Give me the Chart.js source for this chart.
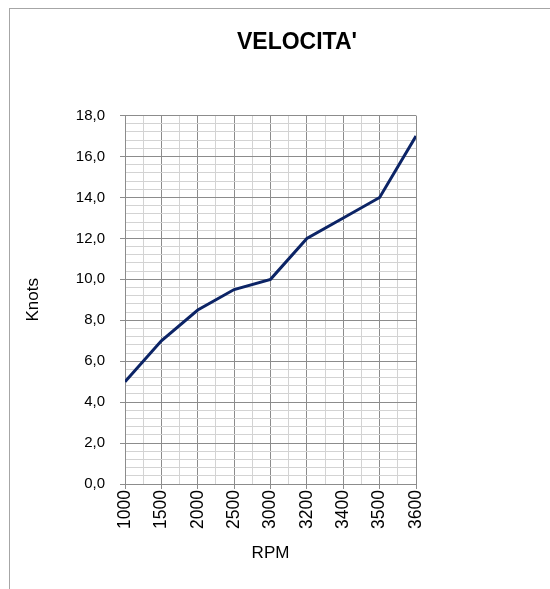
<!DOCTYPE html>
<html><head><meta charset="utf-8">
<script src="https://cdn.jsdelivr.net/npm/chart.js@4/dist/chart.umd.min.js"></script>
<style>
html,body{margin:0;padding:0;overflow:hidden;background:#fff;width:550px;height:589px;}
#frame{position:absolute;left:9px;top:8px;width:574px;height:600px;border-left:1px solid #a6a6a6;border-top:1px solid #a6a6a6;}
canvas{display:block;}
</style></head><body>
<div id="frame"><canvas id="c" width="574" height="600"></canvas></div>
<script>
const categories = ['1000','1500','2000','2500','3000','3200','3400','3500','3600'];
const knots = [5, 7, 8.5, 9.5, 10, 12, 13, 14, 17];
const yTickLabels = ['0,0','2,0','4,0','6,0','8,0','10,0','12,0','14,0','16,0','18,0'];
const chartTitle = "VELOCITA'";
const xTitle = 'RPM';
const yTitle = 'Knots';

const MAJOR = '#8c8c8c', MINOR = '#d3d3d3';
const FONT = "'Liberation Sans', Arial, sans-serif";
const isInt = v => Math.abs(v - Math.round(v)) < 1e-6;
const isYMajor = v => isInt(v / 2);

new Chart(document.getElementById('c'), {
  type: 'line',
  data: {
    datasets: [{
      data: knots.map((v, i) => ({x: i, y: v})),
      borderColor: '#0c2466',
      borderWidth: 3,
      pointRadius: 0,
      tension: 0,
      fill: false
    }]
  },
  options: {
    responsive: false,
    devicePixelRatio: 1,
    animation: false,
    layout: {padding: 0},
    plugins: {
      legend: {display: false},
      tooltip: {enabled: false},
      title: {
        display: true, text: chartTitle, color: '#000',
        font: {family: FONT, size: 23, weight: 'bold'},
        padding: {top: 20, bottom: 59}
      }
    },
    scales: {
      x: {
        type: 'linear', min: 0, max: categories.length - 1,
        afterFit: s => { s.height = 125; },
        border: {color: MAJOR, width: 1},
        grid: {
          color: c => isInt(c.tick.value) ? MAJOR : MINOR,
          tickColor: c => isInt(c.tick.value) ? MAJOR : 'rgba(0,0,0,0)',
          tickLength: 5
        },
        ticks: {
          stepSize: 0.5, autoSkip: false, minRotation: 90, maxRotation: 90,
          padding: 1, color: '#000', font: {family: FONT, size: 17.5},
          callback: v => isInt(v) ? categories[Math.round(v)] : ''
        },
        title: {display: true, text: xTitle, color: '#000',
          font: {family: FONT, size: 17}, padding: {top: 0, bottom: 45}}
      },
      y: {
        type: 'linear', min: 0, max: 18, position: 'left',
        afterFit: s => { s.width = 115; },
        border: {color: MAJOR, width: 1},
        grid: {
          color: c => isYMajor(c.tick.value) ? MAJOR : MINOR,
          tickColor: c => isYMajor(c.tick.value) ? MAJOR : 'rgba(0,0,0,0)',
          tickLength: 5
        },
        ticks: {
          stepSize: 0.4, autoSkip: false, padding: 15, color: '#000',
          font: {family: FONT, size: 15},
          callback: v => isYMajor(v) ? yTickLabels[Math.round(v / 2)] : ''
        },
        title: {display: true, text: yTitle, color: '#000',
          font: {family: FONT, size: 17}, padding: {top: 13, bottom: 0}}
      },
      yr: {
        type: 'linear', position: 'right', display: true,
        afterFit: s => { s.width = 168; },
        grid: {display: false, drawTicks: false},
        border: {display: false},
        ticks: {display: false}
      }
    }
  }
});
</script>
</body></html>
